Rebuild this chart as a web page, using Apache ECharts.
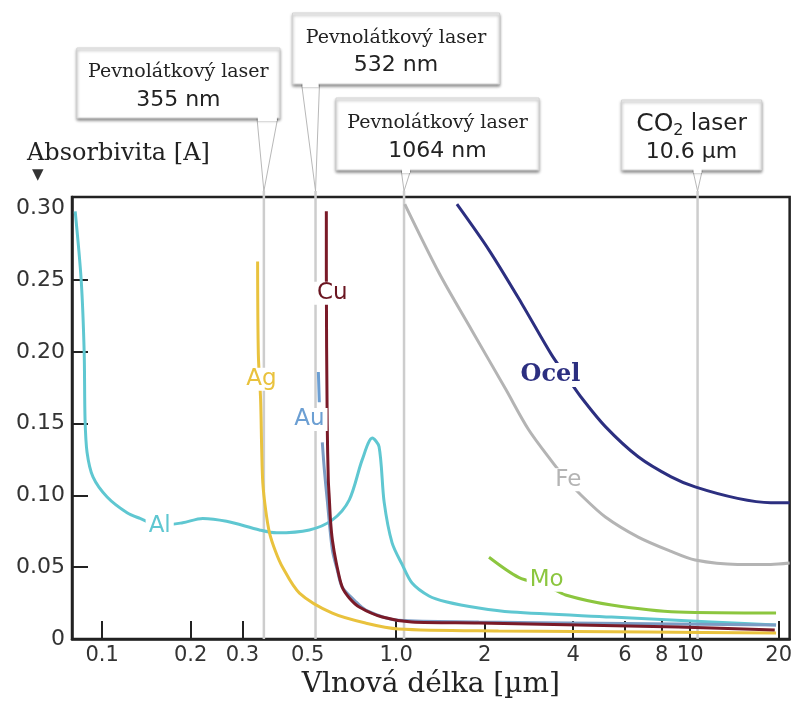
<!DOCTYPE html>
<html>
<head>
<meta charset="utf-8">
<script src="https://cdn.jsdelivr.net/npm/echarts@6/dist/echarts.min.js"></script>
<style>
  html, body { margin: 0; padding: 0; background: #fff; }
  #chart { width: 795px; height: 704px; }
</style>
</head>
<body>
<div id="chart"></div>
<script>
// wavelength [um] / absorptivity pairs
const alData = [
  [0.081, 0.298], [0.0849, 0.25], [0.0869, 0.2], [0.0875, 0.153], [0.0889, 0.13],
  [0.0931, 0.113], [0.104, 0.099], [0.1216, 0.088], [0.1346, 0.084], [0.157, 0.079],
  [0.188, 0.081], [0.22, 0.084], [0.265, 0.082], [0.343, 0.076], [0.392, 0.074],
  [0.507, 0.076], [0.607, 0.083], [0.693, 0.097], [0.767, 0.125], [0.83, 0.14],
  [0.875, 0.134], [0.911, 0.095], [0.969, 0.067], [1.048, 0.052], [1.133, 0.039],
  [1.294, 0.03], [1.477, 0.026], [1.91, 0.0216], [2.47, 0.0188], [5.4, 0.0153],
  [11.8, 0.0119], [19.6, 0.0098]
];
const agData = [
  [0.338, 0.263], [0.34, 0.198], [0.346, 0.167], [0.349, 0.132], [0.352, 0.109],
  [0.36, 0.09], [0.371, 0.074], [0.389, 0.061], [0.411, 0.05], [0.469, 0.032],
  [0.607, 0.018], [0.791, 0.011], [1.02, 0.007], [2.23, 0.0056], [7.2, 0.0049],
  [19.6, 0.0042]
];
const auTop = [[0.544, 0.186], [0.548, 0.165]];
const auData = [
  [0.561, 0.137], [0.57, 0.118], [0.583, 0.097], [0.607, 0.062], [0.631, 0.048],
  [0.656, 0.036], [0.721, 0.027], [0.791, 0.02], [1.02, 0.013], [1.91, 0.0119],
  [4.88, 0.011], [19.6, 0.0098]
];
const cuData = [
  [0.579, 0.298], [0.579, 0.256], [0.583, 0.15], [0.588, 0.111], [0.593, 0.097],
  [0.598, 0.083], [0.607, 0.069], [0.626, 0.053], [0.656, 0.036], [0.693, 0.0286],
  [0.749, 0.0223], [0.897, 0.0153], [1.13, 0.0119], [1.91, 0.0112], [4.17, 0.0098],
  [9.1, 0.0084], [19.4, 0.0063]
];
const feData = [
  [1.07, 0.303], [1.4, 0.255], [1.81, 0.215], [2.36, 0.174], [2.82, 0.146],
  [3.38, 0.124], [3.8, 0.111], [4.27, 0.1], [5.15, 0.085],
  [6.66, 0.071], [8.62, 0.061], [10.4, 0.055], [14.5, 0.052], [18.8, 0.052],
  [21.8, 0.053]
];
const ocelData = [
  [1.61, 0.303], [2.07, 0.271], [2.67, 0.234], [3.38, 0.198], [3.8, 0.183],
  [4.24, 0.169], [5.15, 0.148], [6.66, 0.127], [8.62, 0.113], [10.4, 0.106],
  [14.5, 0.098], [18.8, 0.095], [21.8, 0.095]
];
const moData = [
  [2.07, 0.057], [2.61, 0.043], [3.25, 0.037], [3.77, 0.0307], [5.4, 0.0237],
  [9.1, 0.0188], [19.6, 0.0181]
];

const laserWl = [0.355, 0.532, 1.064, 10.6];
const laserTitle = ['Pevnolátkový laser', 'Pevnolátkový laser', 'Pevnolátkový laser', 'CO2 laser'];
const laserSub = ['355 nm', '532 nm', '1064 nm', '10.6 µm'];

const xTickValues = [0.1, 0.2, 0.3, 1, 2, 4, 6, 8, 10, 20];
const xLabelValues = [0.1, 0.2, 0.3, 0.5, 1, 2, 4, 6, 8, 10, 20];
const yTickValues = [0.05, 0.1, 0.15, 0.2, 0.25];

const Y_MAX = 0.308;
const SANS = 'DejaVu Sans';
const SERIF = 'DejaVu Serif';

// callout boxes, pixels relative to laser line x / plot top
const calloutLayout = [
  { dx: -187, top: -149, w: 203, h: 70, tl: -7, tr: 14 },
  { dx: -23, top: -184, w: 207, h: 71, tl: -14, tr: 4 },
  { dx: -68, top: -99, w: 203, h: 72, tl: -3, tr: 7 },
  { dx: -76, top: -97, w: 140, h: 70, tl: -5, tr: 5 }
];

function tag(text, coord, color, font) {
  return {
    symbol: 'rect', symbolSize: 1, silent: true,
    itemStyle: { color: 'transparent' },
    label: {
      show: true, position: 'inside', formatter: text, color: color,
      fontFamily: font && font.family || SANS, fontSize: font && font.size || 23,
      fontWeight: font && font.weight || 'normal',
      backgroundColor: '#fff', padding: [0, 3]
    },
    data: [{ coord: coord }]
  };
}

function curve(name, data, color, mark) {
  return {
    name: name, type: 'line', data: data, showSymbol: false, smooth: 0.3,
    lineStyle: { width: 3, color: color }, itemStyle: { color: color },
    z: 3, animation: false, markPoint: mark
  };
}

const chart = echarts.init(document.getElementById('chart'), null, { renderer: 'canvas' });

chart.setOption({
  animation: false,
  backgroundColor: '#fff',
  grid: {
    left: 72, right: 3, top: 197, bottom: 65,
    show: true, borderColor: '#222', borderWidth: 2.5, backgroundColor: 'transparent'
  },
  xAxis: {
    type: 'log', logBase: 10, min: 0.079, max: 21.8,
    name: 'Vlnová délka [µm]', nameLocation: 'middle', nameGap: 32,
    nameTextStyle: { fontFamily: SERIF, fontSize: 28, color: '#222' },
    axisLine: { lineStyle: { color: '#222', width: 2.5 } },
    axisTick: { inside: true, length: 18, customValues: xTickValues, lineStyle: { color: '#222', width: 2 } },
    axisLabel: {
      customValues: xLabelValues, margin: 6, color: '#333', fontFamily: SANS, fontSize: 21,
      hideOverlap: false,
      formatter: v => (Math.abs(v - 1) < 1e-9 ? '1.0' : String(+v.toPrecision(3)))
    },
    splitLine: { show: false }, minorTick: { show: false }
  },
  yAxis: {
    type: 'value', min: 0, max: Y_MAX, interval: 0.05,
    name: '{t|Absorbivita [A]}\n{a|▼}', nameLocation: 'end', nameGap: 14,
    nameTextStyle: {
      align: 'left', padding: [0, 0, 0, -45],
      rich: {
        t: { fontFamily: SERIF, fontSize: 24, color: '#222', lineHeight: 26 },
        a: { fontFamily: SANS, fontSize: 15, color: '#333', lineHeight: 16, padding: [0, 0, 0, 5] }
      }
    },
    axisLine: { show: true, lineStyle: { color: '#222', width: 2.5 } },
    axisTick: { show: true, inside: true, length: 16, customValues: yTickValues, lineStyle: { color: '#222', width: 2 } },
    axisLabel: {
      color: '#333', fontFamily: SANS, fontSize: 22, margin: 7, showMaxLabel: false,
      formatter: v => (v === 0 ? '0' : v.toFixed(2))
    },
    splitLine: { show: false }
  },
  series: [
    {
      name: 'lasers', type: 'custom', z: 1, silent: true, animation: false,
      data: laserWl.map(w => [w, 0]),
      encode: { x: 0, y: 1 },
      renderItem: function (params, api) {
        const i = params.dataIndex;
        const bottom = api.coord([api.value(0), 0]);
        const topPt = api.coord([api.value(0), Y_MAX]);
        const lx = bottom[0], plotTop = topPt[1];
        const c = calloutLayout[i];
        const bx = lx + c.dx, by = plotTop + c.top;
        const bBottom = by + c.h;
        const isCO2 = i === 3;
        return {
          type: 'group',
          children: [
            { type: 'line', shape: { x1: lx, y1: bottom[1], x2: lx, y2: plotTop - 6 },
              style: { stroke: '#cdcdcd', lineWidth: 2.5 } },
            { type: 'polygon', shape: { points: [[lx + c.tl, bBottom - 1], [lx, plotTop - 6], [lx + c.tr, bBottom - 1]] },
              style: { fill: '#fff', stroke: '#b8b8b8', lineWidth: 1 } },
            { type: 'rect', shape: { x: bx, y: by, width: c.w, height: c.h },
              style: { fill: '#fff', stroke: '#d4d4d4', lineWidth: 1,
                shadowColor: 'rgba(0,0,0,0.45)', shadowBlur: 3, shadowOffsetY: 2 } },
            { type: 'rect', shape: { x: lx + c.tl + 1, y: bBottom - 2, width: c.tr - c.tl - 2, height: 5 },
              style: { fill: '#fff' } },
            { type: 'text', x: bx + c.w / 2, y: by + c.h * 0.35,
              style: isCO2 ? {
                text: '{co|CO}{sub|2}{la| laser}', align: 'center', verticalAlign: 'middle',
                rich: {
                  co: { fontFamily: SANS, fontSize: 25, fill: '#222' },
                  la: { fontFamily: SANS, fontSize: 23, fill: '#222' },
                  sub: { fontFamily: SANS, fontSize: 16, fill: '#222', padding: [12, 0, 0, 0] }
                }
              } : {
                text: laserTitle[i], align: 'center', verticalAlign: 'middle',
                fontFamily: SERIF, fontSize: 19, fill: '#222'
              } },
            { type: 'text', x: bx + c.w / 2, y: by + c.h * 0.74,
              style: { text: laserSub[i], align: 'center', verticalAlign: 'middle',
                fontFamily: SANS, fontSize: 22, fill: '#222' } }
          ]
        };
      }
    },
    curve('Al', alData, '#5fc7d1', tag('Al', [0.157, 0.079], '#5fc7d1')),
    curve('Ag', agData, '#e9c23d', tag('Ag', [0.348, 0.181], '#e9c23d')),
    curve('Au', auTop, '#6c9fd3', tag('Au', [0.507, 0.153], '#6c9fd3')),
    curve('Au2', auData, '#7b9cc4'),
    curve('Cu', cuData, '#7a1a28', tag('Cu', [0.607, 0.241], '#6a1520')),
    curve('Fe', feData, '#b4b4b4', tag('Fe', [3.85, 0.111], '#b4b4b4')),
    curve('Ocel', ocelData, '#2c2f80', tag('Ocel', [3.35, 0.184], '#2c2f80', { family: SERIF, size: 24, weight: 'bold' })),
    curve('Mo', moData, '#8cc63f', tag('Mo', [3.25, 0.041], '#8cc63f'))
  ]
});
</script>
</body>
</html>
